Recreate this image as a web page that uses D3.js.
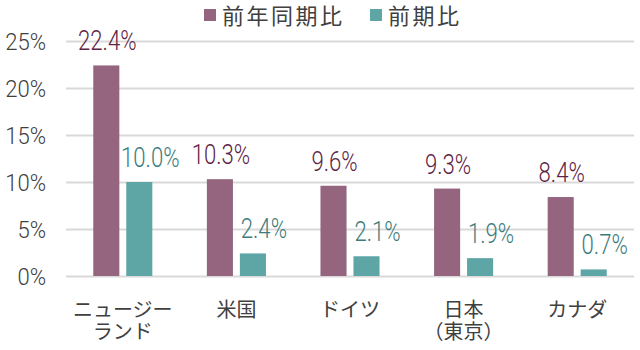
<!DOCTYPE html>
<html>
<head>
<meta charset="utf-8">
<script src="https://cdn.jsdelivr.net/npm/d3@7"></script>
<style>
  html, body { margin: 0; padding: 0; background: #fff; }
  svg { display: block; }
</style>
</head>
<body>
<svg id="chart" width="640" height="350"></svg>
<script>
// Growth rates by market (%)
const categories = [["ニュージー", "ランド"], ["米国"], ["ドイツ"], ["日本", "（東京）"], ["カナダ"]];
const seriesNames = ["前年同期比", "前期比"];
const yoyValues = [22.4, 10.3, 9.6, 9.3, 8.4];
const qoqValues = [10.0, 2.4, 2.1, 1.9, 0.7];
const yTicks = [0, 5, 10, 15, 20, 25];

const barColors = ["#956580", "#5ea5a5"];
const labelColors = ["#5e2445", "#3e7c7c"];
const labelDx = [1, 11];

const svg = d3.select("#chart");
const margin = { left: 66, right: 6, top: 41, bottom: 74 };
const W = 640, H = 350;

const keys = categories.map(c => c.join(""));
const x0 = d3.scaleBand().domain(keys)
  .range([margin.left, W - margin.right])
  .paddingInner(0.48).paddingOuter(0.24);
const x1 = d3.scaleBand().domain(seriesNames)
  .range([0, x0.bandwidth()])
  .paddingInner(0.21).paddingOuter(0);
const y = d3.scaleLinear().domain([0, 25]).range([H - margin.bottom, margin.top]);

const numFont = "Roboto, 'Liberation Sans', sans-serif";
const cjkFont = "'Noto Sans CJK JP', 'Noto Sans', sans-serif";

// squeeze number glyphs horizontally to a narrow, tall look
function narrow(sel, ratio) {
  sel.each(function () {
    const w = this.getComputedTextLength();
    d3.select(this).attr("textLength", w * ratio).attr("lengthAdjust", "spacingAndGlyphs");
  });
}

// gridlines + tick labels
const yAxis = d3.axisLeft(y).tickValues(yTicks)
  .tickSize(-(W - margin.left - margin.right))
  .tickFormat(d => d + "%").tickPadding(20);
const gy = svg.append("g").attr("transform", `translate(${margin.left},0)`).call(yAxis);
gy.select(".domain").remove();
gy.selectAll(".tick line").attr("stroke", "#d9d9d9").attr("stroke-width", 2);
gy.selectAll(".tick text")
  .attr("fill", "#404040")
  .attr("dy", "0.36em")
  .style("font-family", numFont)
  .style("font-weight", 300)
  .style("font-size", "24px")
  .call(narrow, 0.92);

const rows = keys.map((k, i) => ({ key: k, values: [yoyValues[i], qoqValues[i]] }));

const groups = svg.append("g").selectAll("g").data(rows).join("g")
  .attr("transform", d => `translate(${x0(d.key)},0)`);

groups.selectAll("rect")
  .data(d => d.values.map((v, j) => ({ s: seriesNames[j], j, v })))
  .join("rect")
  .attr("x", d => x1(d.s))
  .attr("width", x1.bandwidth())
  .attr("y", d => y(d.v))
  .attr("height", d => y(0) - y(d.v))
  .attr("fill", d => barColors[d.j]);

// value labels
groups.selectAll("text.val")
  .data(d => d.values.map((v, j) => ({ s: seriesNames[j], j, v })))
  .join("text")
  .attr("class", "val")
  .attr("x", d => x1(d.s) + x1.bandwidth() / 2 + labelDx[d.j])
  .attr("y", d => y(d.v) - 15)
  .attr("text-anchor", "middle")
  .attr("fill", d => labelColors[d.j])
  .style("font-family", numFont)
  .style("font-weight", 300)
  .style("font-size", "27px")
  .text(d => d.v.toFixed(1) + "%")
  .call(narrow, 0.82);

// category labels
const catG = svg.append("g");
categories.forEach((lines, i) => {
  const cx = x0(keys[i]) + x0.bandwidth() / 2;
  lines.forEach((ln, k) => {
    catG.append("text")
      .attr("x", cx)
      .attr("y", 317 + k * 22)
      .attr("text-anchor", "middle")
      .attr("fill", "#404040")
      .style("font-family", cjkFont)
      .style("font-size", "20px")
      .text(ln);
  });
});

// legend
const legendX = [204, 370];
const lg = svg.append("g");
seriesNames.forEach((n, j) => {
  lg.append("rect").attr("x", legendX[j]).attr("y", 9).attr("width", 12).attr("height", 12)
    .attr("fill", barColors[j]);
  lg.append("text").attr("x", legendX[j] + 18).attr("y", 24)
    .attr("fill", "#404040")
    .style("font-family", cjkFont)
    .style("font-size", "22px")
    .style("letter-spacing", "2.5px")
    .text(n);
});
</script>
</body>
</html>
